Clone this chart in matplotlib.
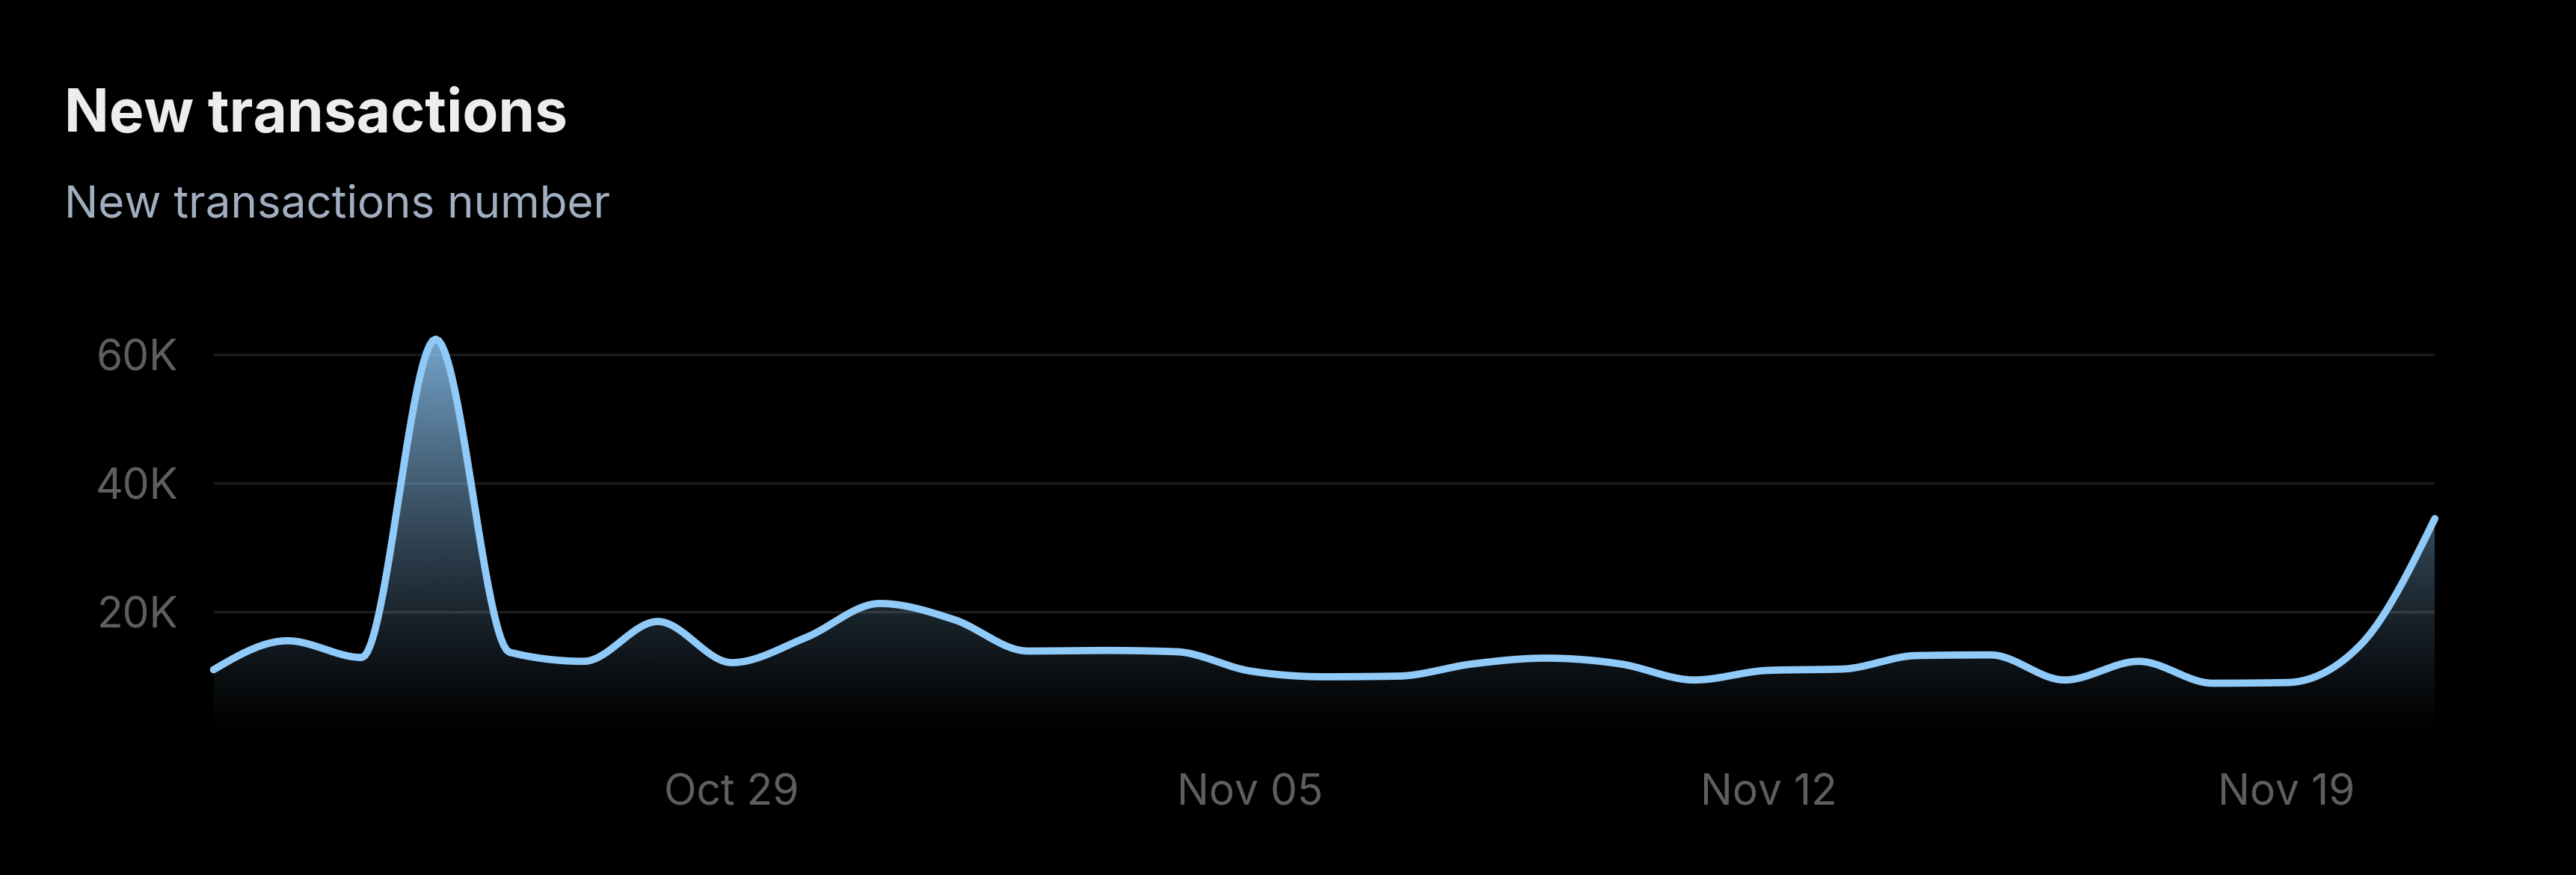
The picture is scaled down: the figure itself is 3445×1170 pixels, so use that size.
import numpy as np
import pandas as pd
import matplotlib
matplotlib.use("Agg")
import matplotlib.pyplot as plt
import matplotlib.dates as mdates
from matplotlib.colors import to_rgb

# colours
BG = "#000000"
LINE_COLOR = "#90CAF9"
TITLE_COLOR = "#EDEDED"
SUB_COLOR = "#A0AEC0"
TICK_COLOR = "#5E5E5E"
GRID_COLOR = "#1C1C1C"

plt.rcParams["font.family"] = ["Inter", "DejaVu Sans"]

# data (daily new transactions)
dates = pd.date_range("2023-10-22", "2023-11-21", freq="D")
values = [11000, 15500, 12900, 62400, 13700, 12300, 18500, 12100, 16000, 21300,
          18800, 13900, 14000, 13800, 10800, 9900, 10000, 11900, 12800, 11900,
          9400, 10900, 11100, 13200, 13300, 9400, 12300, 8900, 9000, 14900, 34500]
y_ticks = [20000, 40000, 60000]
y_labels = ["20K", "40K", "60K"]
x_tick_dates = ["2023-10-29", "2023-11-05", "2023-11-12", "2023-11-19"]
x_labels = ["Oct 29", "Nov 05", "Nov 12", "Nov 19"]


def monotone_x(x, y, n=24):
    """monotone cubic curve like d3.curveMonotoneX"""
    x = np.asarray(x, float)
    y = np.asarray(y, float)
    h = np.diff(x)
    s = np.diff(y) / h
    t = np.zeros_like(y)
    for i in range(1, len(y) - 1):
        p = (s[i - 1] * h[i] + s[i] * h[i - 1]) / (h[i - 1] + h[i])
        t[i] = (np.sign(s[i - 1]) + np.sign(s[i])) * min(abs(s[i - 1]), abs(s[i]), 0.5 * abs(p))
    t[0] = (3 * s[0] - t[1]) / 2
    t[-1] = (3 * s[-1] - t[-2]) / 2
    xs, ys = [], []
    for i in range(len(y) - 1):
        u = np.linspace(0, 1, n, endpoint=(i == len(y) - 2))
        h00 = 2 * u**3 - 3 * u**2 + 1
        h10 = u**3 - 2 * u**2 + u
        h01 = -2 * u**3 + 3 * u**2
        h11 = u**3 - u**2
        ys.append(h00 * y[i] + h10 * h[i] * t[i] + h01 * y[i + 1] + h11 * h[i] * t[i + 1])
        xs.append(x[i] + u * h[i])
    return np.concatenate(xs), np.concatenate(ys)


x = mdates.date2num(dates)
xs, ys = monotone_x(x, values)

fig = plt.figure(figsize=(34.45, 11.70), dpi=100)
fig.patch.set_facecolor(BG)
ax = fig.add_axes([0.0829, 0.1538, 0.8623, 0.485])
ax.set_facecolor(BG)

ymax = 66000
ax.set_xlim(x[0], x[-1])
ax.set_ylim(0, ymax)

# gradient area under the curve
top = max(values)
grad = np.linspace(0, 1, 400)[:, None]
rgba = np.zeros((400, 1, 4))
rgba[..., :3] = to_rgb(LINE_COLOR)
rgba[..., 3] = 0.82 * grad**1.3
poly = ax.fill_between(xs, 0, ys, color="none", lw=0)
img = ax.imshow(rgba, extent=(x[0], x[-1], 0, top), origin="lower",
                aspect="auto", interpolation="bicubic", zorder=1)
img.set_clip_path(poly.get_paths()[0], transform=ax.transData)

ax.plot(xs, ys, color=LINE_COLOR, lw=7, solid_capstyle="round",
        solid_joinstyle="round", zorder=3, clip_on=False)

# axes styling
for sp in ax.spines.values():
    sp.set_visible(False)
ax.set_yticks(y_ticks)
ax.set_yticklabels(y_labels)
ax.set_xticks(mdates.date2num(pd.to_datetime(x_tick_dates)))
ax.set_xticklabels(x_labels)
ax.tick_params(axis="both", length=0, colors=TICK_COLOR, labelsize=41)
ax.tick_params(axis="y", pad=34)
ax.tick_params(axis="x", pad=32)
ax.grid(axis="y", color=GRID_COLOR, lw=2.4, zorder=0)
ax.set_axisbelow(True)

fig.text(0.025, 0.85, "New transactions", color=TITLE_COLOR, fontsize=56.5,
         fontweight="bold", va="baseline", ha="left")
fig.text(0.025, 0.752, "New transactions number", color=SUB_COLOR, fontsize=43.3,
         va="baseline", ha="left")

fig.savefig("out.png", dpi=100, facecolor=BG)
